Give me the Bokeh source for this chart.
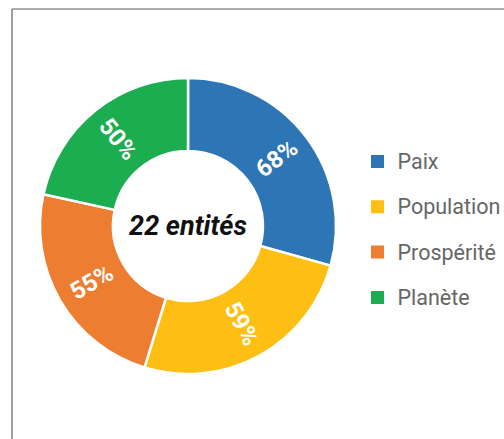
import numpy as np
from bokeh.plotting import figure
from bokeh.models import Range1d, ColumnDataSource
from bokeh.core.properties import value
from bokeh.embed import file_html
from bokeh.resources import INLINE

# ---- data ----
categories = ["Paix", "Population", "Prospérité", "Planète"]
percentages = [68, 59, 55, 50]
colors = ["#2E75B6", "#FDBF13", "#EC7D31", "#1BAD50"]
center_label = "22 entités"

W, H = 504, 439
p = figure(width=W, height=H, x_range=Range1d(0, W), y_range=Range1d(0, H),
           output_backend="svg", toolbar_location=None, min_border=0,
           x_axis_location=None, y_axis_location=None)
p.grid.visible = False
p.outline_line_color = None
p.background_fill_color = "white"
p.border_fill_color = "white"

# frame
p.segment(x0=[11.5, 11.5], y0=[H - 8.5, H - 8.5], x1=[W, 11.5], y1=[H - 8.5, 0],
          line_color="#5f5f5f", line_width=1.2)

cx, cy = 187.5, H - 225.5
r_out, r_in = 148, 75

vals = np.array(percentages, dtype=float)
frac = vals / vals.sum()
cum = np.concatenate([[0.0], np.cumsum(frac)])
start = np.pi / 2 - cum[:-1] * 2 * np.pi
end = np.pi / 2 - cum[1:] * 2 * np.pi
mid = (start + end) / 2
rot = np.where(np.cos(mid) < 0, mid + np.pi, mid)

r_lab = (r_in + r_out) / 2
src = ColumnDataSource(dict(
    cat=categories, color=colors, start=start, end=end,
    lx=cx + r_lab * np.cos(mid), ly=cy + r_lab * np.sin(mid), rot=rot,
    lab=[f"{v}%" for v in percentages],
))

p.annular_wedge(x=cx, y=cy, inner_radius=r_in, outer_radius=r_out,
                start_angle="start", end_angle="end", direction="clock",
                fill_color="color", line_color="white", line_width=2.5, source=src)

p.text(x="lx", y="ly", text="lab", angle="rot", source=src,
       text_color="white", text_font=value("Roboto"), text_font_size="24px",
       text_font_style="bold",
       text_align="center", text_baseline="middle")

p.text(x=[cx], y=[cy], text=[center_label], text_color="#111111",
       text_font=value("Roboto"), text_font_size="27px", text_font_style="bold italic",
       text_align="center", text_baseline="middle")

# legend
leg_y = H - (161 + 45.3 * np.arange(len(categories)))
p.scatter(x=377, y=leg_y, marker="square", size=13, fill_color=colors, line_color=None)
p.text(x=397, y=leg_y, text=categories, text_color="#666666",
       text_font=value("Roboto"), text_font_size="21.5px",
       text_align="left", text_baseline="middle")

open("out.html", "w").write(file_html(p, INLINE))
